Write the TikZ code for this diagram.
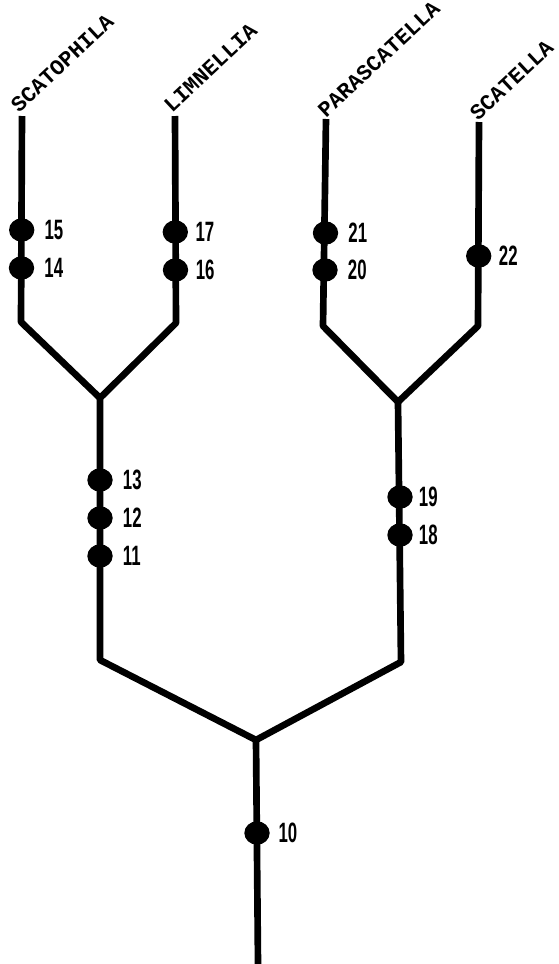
\documentclass[tikz,border=0pt]{standalone}
\usepackage{fontspec}
\usetikzlibrary{shapes.geometric}
\newfontfamily\taxfont{Liberation Mono}
\newfontfamily\numfont{Liberation Sans}
\tikzset{
  branch/.style={line width=5pt, line join=round, line cap=butt},
  bead/.style={ellipse, fill=black, inner sep=0pt, minimum width=19pt, minimum height=17.5pt},
  taxon/.style={anchor=base west, rotate=43, inner sep=0pt, outer sep=0pt, font=\taxfont\bfseries\fontsize{16.4}{16.4}\selectfont},
  num/.style={anchor=west, inner sep=0pt, font=\numfont\bfseries\fontsize{21}{21}\selectfont},
}
\newcommand{\nm}[1]{\scalebox{0.6}[1]{#1}}
\begin{document}
\begin{tikzpicture}[x=0.75pt,y=-0.75pt]
\useasboundingbox (0,0) rectangle (559,964);
% tips
\coordinate (tA) at (22,116);
\coordinate (tB) at (175,116);
\coordinate (tC) at (326,119);
\coordinate (tD) at (479,122);
% bends
\coordinate (bA) at (21,322);
\coordinate (bB) at (176,323);
\coordinate (bC) at (323,326);
\coordinate (bD) at (478,326);
% joins
\coordinate (jL) at (100,398);
\coordinate (jR) at (398,402);
\coordinate (kL) at (100,660);
\coordinate (kR) at (401,662);
\coordinate (jRoot) at (256,740);
\coordinate (root) at (258,964);
% branches
\draw[branch] (tA) -- (bA) -- (jL) -- (bB) -- (tB);
\draw[branch] (tC) -- (bC) -- (jR) -- (bD) -- (tD);
\draw[branch] (jL) -- (kL) -- (jRoot) -- (kR) -- (jR);
\draw[branch] (jRoot) -- (root);
% taxon labels
\node[taxon] (nA) at (19,113) {SCATOPHILA};
\node[taxon] (nB) at (172,113) {LIMNELLIA};
\node[taxon] (nC) at (326,118) {PARASCATELLA};
\node[taxon] (nD) at (478,121) {SCATELLA};
% beads
\node[bead] (b15) at (21.7,230) {};
\node[bead] (b14) at (21.5,268) {};
\node[bead] (b17) at (175.3,232) {};
\node[bead] (b16) at (175.5,270) {};
\node[bead] (b21) at (325.5,233) {};
\node[bead] (b20) at (325,270) {};
\node[bead] (b22) at (478.7,256) {};
\node[bead] (b13) at (100,480) {};
\node[bead] (b12) at (100,518) {};
\node[bead] (b11) at (100,556) {};
\node[bead] (b19) at (400,497) {};
\node[bead] (b18) at (400,535) {};
\node[bead] (b10) at (257,833) {};
% numbers
\node[num] (l15) at ([xshift=17pt]b15.center) {\nm{15}};
\node[num] (l14) at ([xshift=17pt]b14.center) {\nm{14}};
\node[num] (l17) at ([xshift=15pt]b17.center) {\nm{17}};
\node[num] (l16) at ([xshift=15pt]b16.center) {\nm{16}};
\node[num] (l21) at ([xshift=17pt]b21.center) {\nm{21}};
\node[num] (l20) at ([xshift=17pt]b20.center) {\nm{20}};
\node[num] (l22) at ([xshift=15pt]b22.center) {\nm{22}};
\node[num] (l13) at ([xshift=17pt]b13.center) {\nm{13}};
\node[num] (l12) at ([xshift=17pt]b12.center) {\nm{12}};
\node[num] (l11) at ([xshift=17pt]b11.center) {\nm{11}};
\node[num] (l19) at ([xshift=14pt]b19.center) {\nm{19}};
\node[num] (l18) at ([xshift=14pt]b18.center) {\nm{18}};
\node[num] (l10) at ([xshift=16pt]b10.center) {\nm{10}};
\end{tikzpicture}
\end{document}
